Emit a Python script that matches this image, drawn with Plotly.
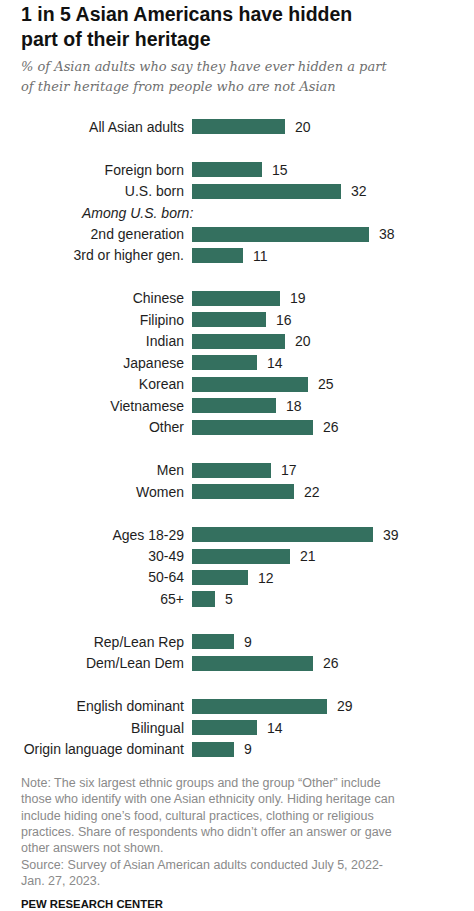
import plotly.graph_objects as go

# ---- data ----
categories = [
    "All Asian adults", "",
    "Foreign born", "U.S. born", "Among U.S. born:", "2nd generation", "3rd or higher gen.", "",
    "Chinese", "Filipino", "Indian", "Japanese", "Korean", "Vietnamese", "Other", "",
    "Men", "Women", "",
    "Ages 18-29", "30-49", "50-64", "65+", "",
    "Rep/Lean Rep", "Dem/Lean Dem", "",
    "English dominant", "Bilingual", "Origin language dominant",
]
values = [
    20, None,
    15, 32, None, 38, 11, None,
    19, 16, 20, 14, 25, 18, 26, None,
    17, 22, None,
    39, 21, 12, 5, None,
    9, 26, None,
    29, 14, 9,
]
header_rows = ["Among U.S. born:"]

title_lines = ["1 in 5 Asian Americans have hidden", "part of their heritage"]
subtitle_lines = ["% of Asian adults who say they have ever hidden a part",
                  "of their heritage from people who are not Asian"]
note_lines = [
    "Note: The six largest ethnic groups and the group \u201cOther\u201d include",
    "those who identify with one Asian ethnicity only. Hiding heritage can",
    "include hiding one\u2019s food, cultural practices, clothing or religious",
    "practices. Share of respondents who didn\u2019t offer an answer or gave",
    "other answers not shown.",
    "Source: Survey of Asian American adults conducted July 5, 2022-",
    "Jan. 27, 2023.",
]
credit = "PEW RESEARCH CENTER"

# ---- layout geometry ----
FW, FH = 474, 911
L, R, T, B = 192, 40, 116, 151
W, H = FW - L - R, FH - T - B
PX_PER_UNIT = 4.65
BAR_COLOR = "#34705f"
SANS = "Liberation Sans, Arial, sans-serif"


def px(x):
    return (x - L) / W


def py(y):
    return 1 - (y - T) / H


n = len(categories)
pos = list(range(n))
bar_y = [p for p, v in zip(pos, values) if v is not None]
bar_x = [v for v in values if v is not None]

fig = go.Figure()
fig.add_trace(go.Bar(
    x=bar_x, y=bar_y, orientation="h", width=0.7,
    marker=dict(color=BAR_COLOR, line=dict(width=0)),
    hoverinfo="skip",
))

tickvals = [p for p, c in zip(pos, categories) if c and c not in header_rows]
ticktext = [c for c in categories if c and c not in header_rows]

annotations = []
for v, yv in zip(bar_x, bar_y):
    annotations.append(dict(x=v, y=yv, xref="x", yref="y", text=str(v),
                            xanchor="left", yanchor="middle", xshift=8, showarrow=False,
                            font=dict(family=SANS, size=14, color="#1e1e1e")))
for p, c in zip(pos, categories):
    if c in header_rows:
        annotations.append(dict(x=0, y=p, xref="x", yref="y", text="<i>" + c + "</i>",
                                xanchor="right", yanchor="middle", xshift=3, showarrow=False,
                                font=dict(family=SANS, size=14, color="#1e1e1e")))


def text_line(txt, x_px, y_center_px, font):
    return dict(x=px(x_px), y=py(y_center_px), xref="paper", yref="paper", text=txt,
                xanchor="left", yanchor="middle", align="left", showarrow=False, font=font)


title_font = dict(family=SANS, size=19.5, color="#111")
for i, t in enumerate(title_lines):
    annotations.append(text_line("<b>" + t + "</b>", 19, 14 + 25 * i, title_font))

sub_font = dict(family="DejaVu Serif, serif", size=13, color="#6f6f6f")
for i, t in enumerate(subtitle_lines):
    annotations.append(text_line("<i>" + t + "</i>", 19, 67 + 19 * i, sub_font))

note_font = dict(family=SANS, size=12.5, color="#8a8a8a")
for i, t in enumerate(note_lines):
    annotations.append(text_line(t, 19, 783 + 16.3 * i, note_font))

annotations.append(text_line("<b>" + credit + "</b>", 19, 904,
                             dict(family=SANS, size=11.3, color="#111")))

fig.update_layout(
    width=FW, height=FH,
    margin=dict(l=L, r=R, t=T, b=B),
    paper_bgcolor="white", plot_bgcolor="white",
    showlegend=False,
    bargap=0,
    annotations=annotations,
    xaxis=dict(range=[0, W / PX_PER_UNIT], visible=False, fixedrange=True),
    yaxis=dict(range=[n - 0.5, -0.5], tickvals=tickvals, ticktext=ticktext,
               showgrid=False, zeroline=False, showline=False, ticks="",
               ticklabelstandoff=7, fixedrange=True,
               tickfont=dict(family=SANS, size=14, color="#1e1e1e")),
)

fig.write_html("out.html", config={"displayModeBar": False},
               post_script="document.body.style.margin='0';")
